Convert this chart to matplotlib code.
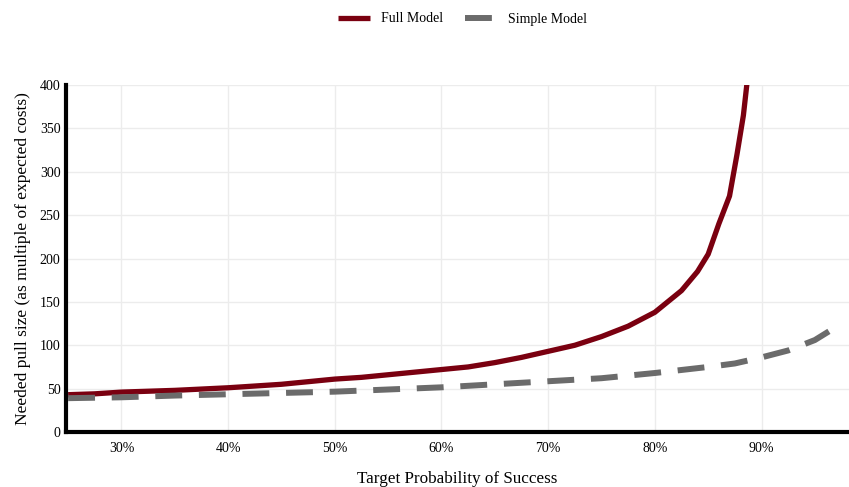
import matplotlib
matplotlib.use("Agg")
import matplotlib.pyplot as plt
from matplotlib.ticker import FuncFormatter

# Data
full_p = [25, 27.5, 30, 32.5, 35, 37.5, 40, 42.5, 45, 47.5, 50, 52.5, 55, 57.5, 60,
          62.5, 65, 67.5, 70, 72.5, 75, 77.5, 80, 82.5, 84, 85, 86, 87, 87.7, 88.3, 88.8]
full_v = [43, 44, 46, 47, 48, 49.5, 51, 53, 55, 58, 61, 63, 66, 69, 72,
          75, 80, 86, 93, 100, 110, 122, 138, 163, 185, 205, 240, 272, 320, 365, 420]
simple_p = [25, 30, 35, 40, 45, 50, 55, 60, 65, 70, 75, 80, 85, 87.5, 90, 92.5, 95, 97.5]
simple_v = [39, 40, 42, 43.5, 45, 46.5, 49, 51.5, 55, 58.5, 62, 68, 75, 79, 86, 94, 106, 125]
x_ticks = [30, 40, 50, 60, 70, 80, 90]
y_ticks = [0, 50, 100, 150, 200, 250, 300, 350, 400]

plt.rcParams['font.family'] = ['Liberation Serif', 'DejaVu Serif']

fig = plt.figure(figsize=(8.49, 4.87), dpi=100)
ax = fig.add_axes([66/849, 1-432/487, 1-66/849, (432-85)/487])

ax.plot(full_p, full_v, color='#7a0010', lw=3.8, label='Full Model', solid_capstyle='butt')
ax.plot(simple_p, simple_v, color='#6b6b6b', lw=4.3, dashes=(4.5, 2.8), label='Simple Model')

ax.set_xlim(24.8, 98.2)
ax.set_ylim(0, 400)
ax.set_xticks(x_ticks)
ax.set_yticks(y_ticks)
ax.xaxis.set_major_formatter(FuncFormatter(lambda v, p: f"{int(v)}%"))
ax.grid(True, color='#ececec', lw=1)
ax.set_axisbelow(True)
for s in ['top', 'right']:
    ax.spines[s].set_visible(False)
ax.spines['left'].set_linewidth(3)
ax.spines['bottom'].set_linewidth(3)
ax.tick_params(length=0, labelsize=10, pad=7)
ax.tick_params(axis='y', pad=4)

ax.set_xlabel('Target Probability of Success', fontsize=12.3, labelpad=12)
ax.set_ylabel('Needed pull size (as multiple of expected costs)', fontsize=12.5, labelpad=6)

leg = fig.legend(loc='upper center', bbox_to_anchor=(0.545, 1.0), ncol=2, frameon=False,
                 fontsize=10, handlelength=2.3, columnspacing=1.6, borderaxespad=0.5)

fig.savefig('out.png', dpi=100)
